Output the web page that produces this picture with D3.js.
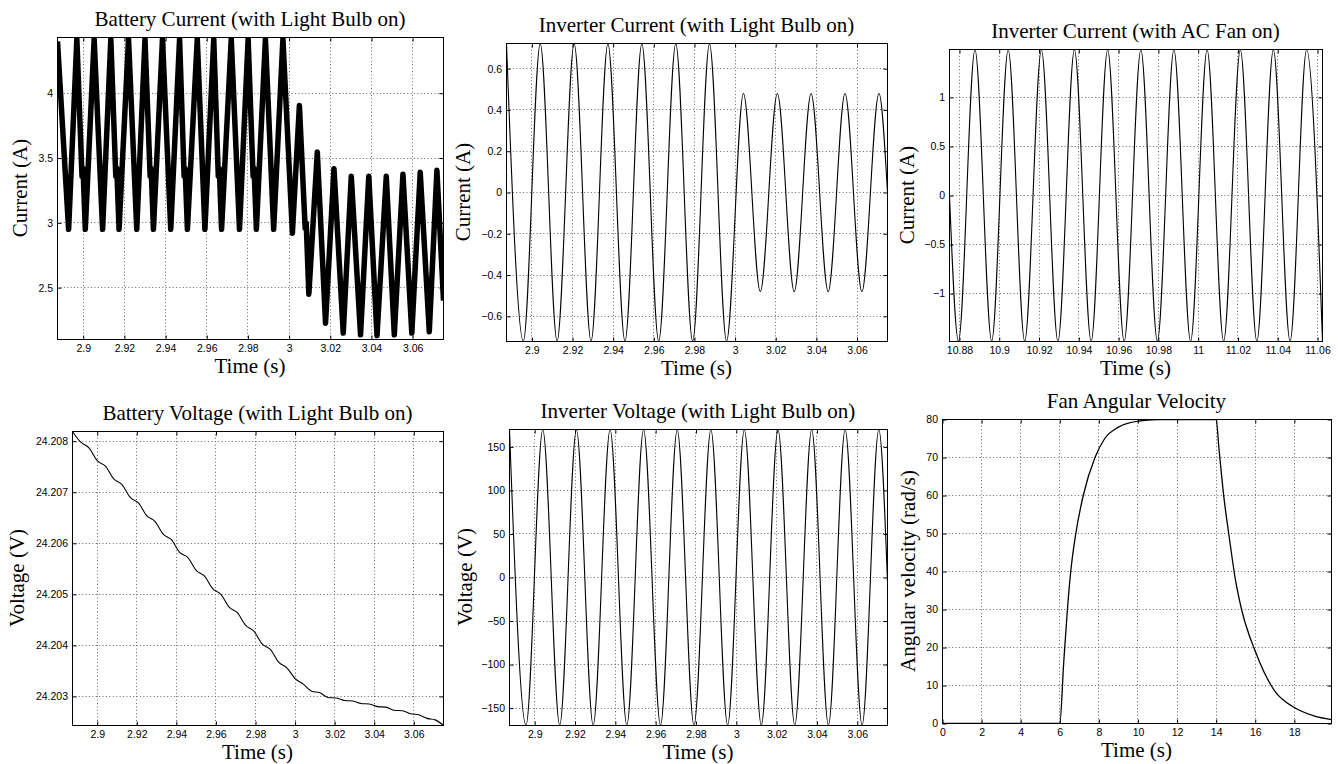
<!DOCTYPE html>
<html>
<head>
<meta charset="utf-8">
<script src="https://cdn.jsdelivr.net/npm/d3@7"></script>
<style>
  body { margin: 0; background: #fff; }
  svg { display: block; }
  .title, .label { font-family: "Liberation Serif", "Times New Roman", serif; font-size: 21px; fill: #000; }
  .tick text { font-family: "Liberation Sans", Arial, sans-serif; font-size: 10.5px; fill: #000; }
  .grid line { stroke: #666; stroke-width: 1; stroke-dasharray: 1,2.4; }
  .box { fill: none; stroke: #000; stroke-width: 1; }
  .trace { fill: none; stroke: #000; stroke-linejoin: round; }
</style>
</head>
<body>
<svg id="chart" width="1338" height="764"></svg>
<script>
// --- values ---

// common time windows and tick labels
var bulbWindow = [2.8875, 3.075];
var bulbTicks = [2.9, 2.92, 2.94, 2.96, 2.98, 3, 3.02, 3.04, 3.06];
var fanWindow = [10.875, 11.0625];
var fanTicks = [10.88, 10.9, 10.92, 10.94, 10.96, 10.98, 11, 11.02, 11.04, 11.06];
var velTicks = [0, 2, 4, 6, 8, 10, 12, 14, 16, 18];

// battery current, light bulb on (corners of the thick ripple band)
var battCurT = [2.8875, 2.8929, 2.8969, 2.8994, 2.8999, 2.9010, 2.9053, 2.9094, 2.9134, 2.9158,
  2.9163, 2.9174, 2.9220, 2.9260, 2.9300, 2.9325, 2.9330, 2.9341, 2.9385, 2.9425,
  2.9468, 2.9490, 2.9495, 2.9506, 2.9554, 2.9591, 2.9634, 2.9656, 2.9661, 2.9672,
  2.9719, 2.9759, 2.9801, 2.9825, 2.9830, 2.9841, 2.9885, 2.9925, 2.9970, 3.0016,
  3.0050, 3.0078, 3.0083, 3.0096, 3.0137, 3.0177, 3.0218, 3.0263, 3.0302, 3.0347,
  3.0387, 3.0427, 3.0472, 3.0511, 3.0553, 3.0596, 3.0637, 3.0681, 3.0718, 3.075];
var battCurI = [4.40, 2.95, 4.42, 3.36, 3.42, 2.95, 4.42, 2.95, 4.42, 3.36,
  3.42, 2.95, 4.42, 2.95, 4.42, 3.36, 3.42, 2.95, 4.42, 2.95,
  4.42, 3.36, 3.42, 2.95, 4.42, 2.95, 4.42, 3.36, 3.42, 2.95,
  4.42, 2.95, 4.42, 3.36, 3.42, 2.95, 4.42, 2.95, 4.42, 2.92,
  3.905, 2.96, 3.00, 2.45, 3.546, 2.226, 3.418, 2.15, 3.36, 2.136,
  3.36, 2.13, 3.36, 2.136, 3.375, 2.15, 3.39, 2.16, 3.405, 2.40];

// inverter current, light bulb on (peaks and troughs)
var invCurT = [2.8875, 2.8958, 2.9041, 2.9124, 2.9208, 2.9291, 2.9374, 2.9458, 2.9541, 2.9624,
  2.9708, 2.9791, 2.9874, 2.9958, 3.0041, 3.0124, 3.0208, 3.0291, 3.0374, 3.0458,
  3.0541, 3.0624, 3.0708, 3.075];
var invCurI = [0.72, -0.72, 0.72, -0.72, 0.72, -0.72, 0.72, -0.72, 0.72, -0.72,
  0.72, -0.72, 0.72, -0.72, 0.48, -0.48, 0.48, -0.48, 0.48, -0.48,
  0.48, -0.48, 0.48, 0.0];

// inverter current, AC fan on
var fanCurT = [10.875, 10.8795, 10.8878, 10.8962, 10.9045, 10.9128, 10.9212, 10.9295, 10.9378, 10.9462,
  10.9545, 10.9628, 10.9712, 10.9795, 10.9878, 10.9962, 11.0045, 11.0128, 11.0212, 11.0295,
  11.0378, 11.0462, 11.0545, 11.0625];
var fanCurI = [0.0, -1.485, 1.485, -1.485, 1.485, -1.485, 1.485, -1.485, 1.485, -1.485,
  1.485, -1.485, 1.485, -1.485, 1.485, -1.485, 1.485, -1.485, 1.485, -1.485,
  1.485, -1.485, 1.485, -1.485];

// battery voltage, light bulb on (small 120 Hz steps on the decline)
var battVoltT = [2.8875, 2.89167, 2.89583, 2.9, 2.90417, 2.90833, 2.9125, 2.91667, 2.92083, 2.925,
  2.92917, 2.93333, 2.9375, 2.94167, 2.94583, 2.95, 2.95417, 2.95833, 2.9625, 2.96667,
  2.97083, 2.975, 2.97917, 2.98333, 2.9875, 2.99167, 2.99583, 3.0, 3.00417, 3.00833,
  3.0125, 3.01667, 3.02083, 3.025, 3.02917, 3.03333, 3.0375, 3.04167, 3.04583, 3.05,
  3.05417, 3.05833, 3.0625, 3.06667, 3.07083, 3.075];
var battVoltV = [24.20819, 24.20798, 24.20787, 24.20762, 24.20751, 24.20726, 24.20715, 24.20690, 24.20679, 24.20654,
  24.20643, 24.20618, 24.20607, 24.20582, 24.20572, 24.20547, 24.20536, 24.20511, 24.20500, 24.20475,
  24.20464, 24.20439, 24.20428, 24.20403, 24.20392, 24.20367, 24.20356, 24.20335, 24.20324, 24.20310,
  24.20307, 24.20298, 24.20297, 24.20292, 24.20291, 24.20286, 24.20285, 24.20280, 24.20279, 24.20273,
  24.20272, 24.20266, 24.20264, 24.20257, 24.20254, 24.20243];

// inverter voltage, light bulb on
var invVoltT = [2.8875, 2.8957, 2.9040, 2.9124, 2.9207, 2.9290, 2.9374, 2.9457, 2.9540, 2.9624,
  2.9707, 2.9790, 2.9874, 2.9957, 3.0040, 3.0124, 3.0207, 3.0290, 3.0374, 3.0457,
  3.0540, 3.0624, 3.0707, 3.075];
var invVoltV = [169.7, -169.7, 169.7, -169.7, 169.7, -169.7, 169.7, -169.7, 169.7, -169.7,
  169.7, -169.7, 169.7, -169.7, 169.7, -169.7, 169.7, -169.7, 169.7, -169.7,
  169.7, -169.7, 169.7, -5];

// fan angular velocity
var fanVelT = [0, 6, 6.2, 6.39, 6.56, 6.82, 7.2, 7.8, 8.3, 9.0, 10.0, 11.0, 12.0, 14.0,
  14.14, 14.4, 14.65, 15.0, 15.3, 16.0, 17.0, 18.0, 19.0, 19.9];
var fanVelW = [0, 0, 16, 30, 40, 50, 60, 70, 75, 78, 79.6, 80, 80, 80,
  72.5, 59.3, 49.7, 37.4, 30, 19, 8.5, 4.2, 2.0, 1.0];

// --- layout ---
var panels = [
  { id: 'p1', title: 'Battery Current (with Light Bulb on)', xLabel: 'Time (s)', yLabel: 'Current (A)',
    box: [57, 37, 443, 339], yGap: 37, t: battCurT, v: battCurI, curve: d3.curveLinear, lineWidth: 5.5,
    xDomain: bulbWindow, yDomain: [2.1, 4.43], xTicks: bulbTicks, yTicks: [2.5, 3, 3.5, 4] },
  { id: 'p2', title: 'Inverter Current (with Light Bulb on)', xLabel: 'Time (s)', yLabel: 'Current (A)',
    box: [506, 43, 887, 341], yGap: 43, t: invCurT, v: invCurI, curve: d3.curveMonotoneX, lineWidth: 1.1,
    xDomain: bulbWindow, yDomain: [-0.722, 0.722], xTicks: bulbTicks, yTicks: [-0.6, -0.4, -0.2, 0, 0.2, 0.4, 0.6] },
  { id: 'p3', title: 'Inverter Current (with AC Fan on)', xLabel: 'Time (s)', yLabel: 'Current (A)',
    box: [949, 49, 1322, 341], yGap: 42, t: fanCurT, v: fanCurI, curve: d3.curveMonotoneX, lineWidth: 1.1,
    xDomain: fanWindow, yDomain: [-1.488, 1.488], xTicks: fanTicks, yTicks: [-1, -0.5, 0, 0.5, 1] },
  { id: 'p4', title: 'Battery Voltage (with Light Bulb on)', xLabel: 'Time (s)', yLabel: 'Voltage (V)',
    box: [72, 431, 443, 725], yGap: 55, t: battVoltT, v: battVoltV, curve: d3.curveMonotoneX, lineWidth: 1.1,
    xDomain: bulbWindow, yDomain: [24.20243, 24.20819], xTicks: bulbTicks,
    yTicks: [24.203, 24.204, 24.205, 24.206, 24.207, 24.208] },
  { id: 'p5', title: 'Inverter Voltage (with Light Bulb on)', xLabel: 'Time (s)', yLabel: 'Voltage (V)',
    box: [509, 429, 887, 725], yGap: 44, t: invVoltT, v: invVoltV, curve: d3.curveMonotoneX, lineWidth: 1.1,
    xDomain: bulbWindow, yDomain: [-170, 170], xTicks: bulbTicks, yTicks: [-150, -100, -50, 0, 50, 100, 150] },
  { id: 'p6', title: 'Fan Angular Velocity', xLabel: 'Time (s)', yLabel: 'Angular velocity (rad/s)',
    box: [942, 419, 1331, 723], yGap: 34, t: fanVelT, v: fanVelW, curve: d3.curveMonotoneX, lineWidth: 1.3,
    xDomain: [0, 19.9], yDomain: [0, 80], xTicks: velTicks, yTicks: [0, 10, 20, 30, 40, 50, 60, 70, 80] }
];

var svg = d3.select('#chart');
var defs = svg.append('defs');
var fmt = d3.format('~g');

panels.forEach(drawPanel);

function drawPanel(p) {
  var left = p.box[0], top = p.box[1], right = p.box[2], bottom = p.box[3];
  var x = d3.scaleLinear().domain(p.xDomain).range([left + 0.5, right + 0.5]);
  var y = d3.scaleLinear().domain(p.yDomain).range([bottom + 0.5, top + 0.5]);
  var g = svg.append('g').attr('class', 'panel');

  defs.append('clipPath').attr('id', 'clip-' + p.id)
    .append('rect')
      .attr('x', left).attr('y', top)
      .attr('width', right - left + 1).attr('height', bottom - top + 1);

  // dotted grid
  var grid = g.append('g').attr('class', 'grid');
  grid.selectAll('line.gx')
    .data(p.xTicks.filter(function(d) { return x(d) > left + 1 && x(d) < right; }))
    .enter().append('line')
      .attr('class', 'gx')
      .attr('x1', function(d) { return Math.round(x(d) - 0.5) + 0.5; })
      .attr('x2', function(d) { return Math.round(x(d) - 0.5) + 0.5; })
      .attr('y1', top).attr('y2', bottom);
  grid.selectAll('line.gy')
    .data(p.yTicks.filter(function(d) { return y(d) > top + 1 && y(d) < bottom; }))
    .enter().append('line')
      .attr('class', 'gy')
      .attr('y1', function(d) { return Math.round(y(d) - 0.5) + 0.5; })
      .attr('y2', function(d) { return Math.round(y(d) - 0.5) + 0.5; })
      .attr('x1', left).attr('x2', right);

  // trace
  var line = d3.line()
    .x(function(d) { return x(d[0]); })
    .y(function(d) { return y(d[1]); })
    .curve(p.curve);

  g.append('path')
    .attr('class', 'trace')
    .attr('clip-path', 'url(#clip-' + p.id + ')')
    .attr('stroke-width', p.lineWidth)
    .attr('d', line(d3.zip(p.t, p.v)));

  // axes, ticks pointing inward on all four sides
  function tidy(sel) {
    sel.attr('font-family', null).attr('font-size', null);
    sel.select('.domain').remove();
  }
  g.append('g')
    .call(d3.axisBottom(x).tickValues(p.xTicks).tickFormat(fmt).tickSize(-4).tickPadding(5))
    .attr('transform', 'translate(0,' + (bottom + 0.5) + ')')
    .call(tidy);
  g.append('g')
    .call(d3.axisTop(x).tickValues(p.xTicks).tickFormat('').tickSize(-4))
    .attr('transform', 'translate(0,' + (top + 0.5) + ')')
    .call(tidy);
  g.append('g')
    .call(d3.axisLeft(y).tickValues(p.yTicks).tickFormat(fmt).tickSize(-4).tickPadding(4.5))
    .attr('transform', 'translate(' + (left + 0.5) + ',0)')
    .call(tidy);
  g.append('g')
    .call(d3.axisRight(y).tickValues(p.yTicks).tickFormat('').tickSize(-4))
    .attr('transform', 'translate(' + (right + 0.5) + ',0)')
    .call(tidy);

  g.append('rect')
    .attr('class', 'box')
    .attr('x', left + 0.5).attr('y', top + 0.5)
    .attr('width', right - left).attr('height', bottom - top);

  // texts
  var cx = (left + right) / 2;
  g.append('text').attr('class', 'title')
    .attr('x', cx).attr('y', top - 11)
    .attr('text-anchor', 'middle')
    .text(p.title);
  g.append('text').attr('class', 'label')
    .attr('x', cx).attr('y', bottom + 34)
    .attr('text-anchor', 'middle')
    .text(p.xLabel);
  g.append('text').attr('class', 'label')
    .attr('transform', 'translate(' + (left - p.yGap) + ',' + ((top + bottom) / 2) + ') rotate(-90)')
    .attr('text-anchor', 'middle')
    .attr('dy', '0.35em')
    .text(p.yLabel);
}
</script>
</body>
</html>
